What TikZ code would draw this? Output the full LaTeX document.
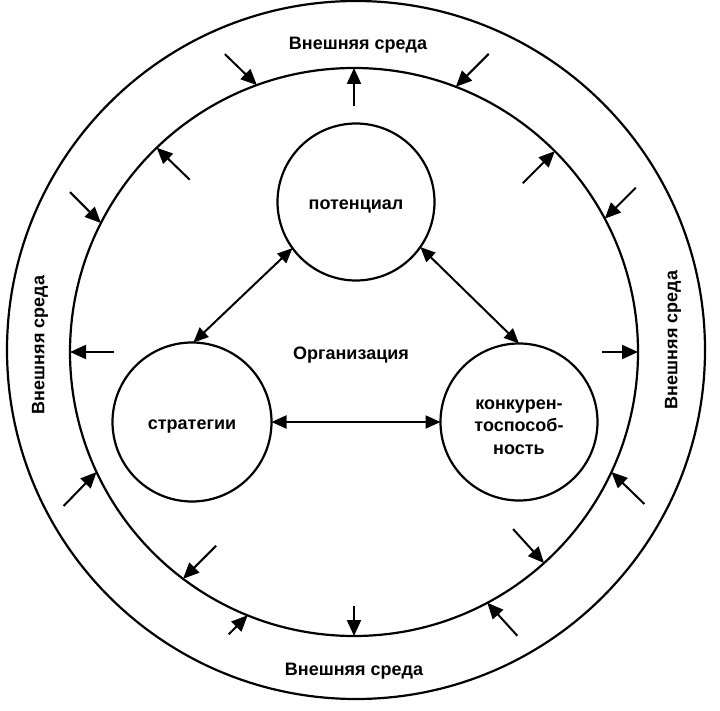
\documentclass[tikz,border=0pt]{standalone}
\usepackage{fontspec}
\setmainfont{Liberation Sans}
\usetikzlibrary{arrows.meta}

\begin{document}
\begin{tikzpicture}[x=1pt,y=-1pt,
    circ/.style={draw,circle,line width=2.2pt,inner sep=0pt,outer sep=0pt},
    lbl/.style={font=\bfseries\fontsize{18}{22.5}\selectfont,align=center},
    arr/.style={line width=2pt,-{Triangle[length=16pt,width=14pt]}},
    darr/.style={line width=2pt,{Triangle[length=15pt,width=13pt]}-{Triangle[length=15pt,width=13pt]}}]
  \useasboundingbox (0,0) rectangle (720,711);
  % rings
  \node[circ,minimum size=698pt] (env) at (356,350) {};
  \node[circ,minimum size=568pt] (ring) at (354,352) {};
  \node[lbl] (envN) at (358,45) {Внешняя среда};
  \node[lbl] (envS) at (354,671) {Внешняя среда};
  \node[lbl,rotate=90] (envW) at (40,345) {Внешняя среда};
  \node[lbl,rotate=90] (envE) at (673,340) {Внешняя среда};
  % organisation
  \node[lbl] (org) at (351,355) {Организация};
  \node[circ,minimum size=157pt] (pot) at (356,202) {};
  \node[circ,minimum size=159pt] (strat) at (192,422) {};
  \node[circ,minimum size=157pt] (comp) at (519,422) {};
  \node[lbl] (potT) at (356,206) {потенциал};
  \node[lbl] (stratT) at (192,427) {стратегии};
  \node[lbl] (compT) at (519,427) {конкурен-\\тоспособ-\\ность};
  \draw[darr] (pot.216) -- (strat.89);
  \draw[darr] (pot.325) -- (comp.90);
  \draw[darr] (strat) -- (comp);
  % influences across the ring
  \foreach \a/\dx/\dy [count=\i] in {110/-32/-31, 90/0/38, 69/33/-33, 134/33/32,
      45/-32/32, 153/-31/-31, 28/31/-31, 180/44/0, 0/-36/0, 205/-33/34,
      335/33/32, 233/33/-33, 312/-31/-34, 270/0/-30, 248/-19/19, 298/30/33}{
    \path (ring.\a) ++(\dx,\dy) coordinate (t\i);
    \draw[arr] (t\i) -- (ring.\a);
  }
\end{tikzpicture}
\end{document}
